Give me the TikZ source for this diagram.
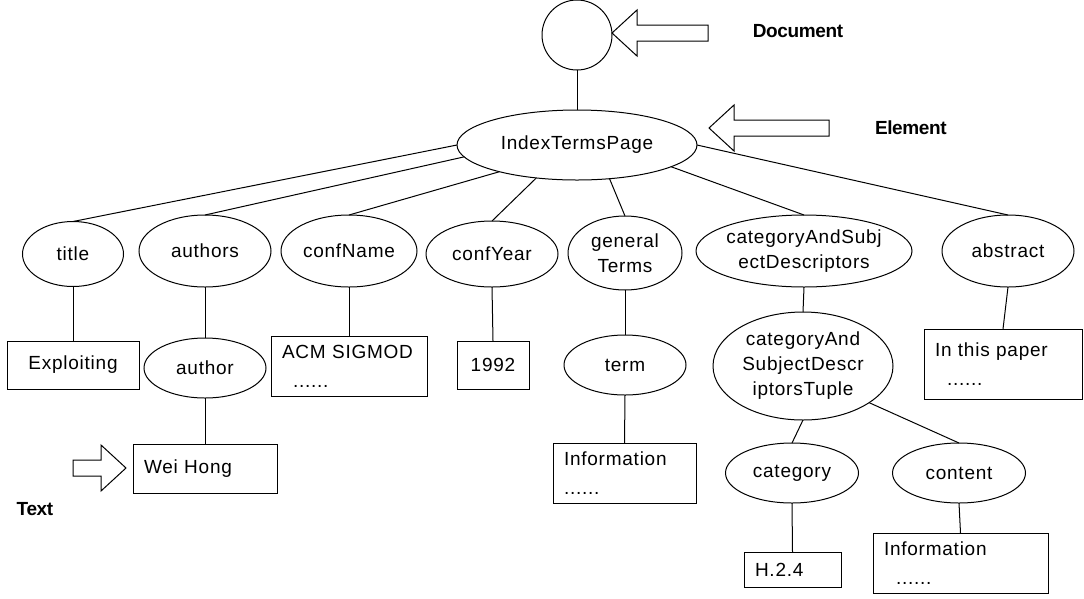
\documentclass[tikz,border=0pt]{standalone}
\usepackage{fontspec}
\setmainfont{Liberation Sans}[LetterSpace=4]
\newfontfamily\labelfont{Liberation Sans}[LetterSpace=-2]
\usetikzlibrary{shapes.geometric}

\begin{document}
\begin{tikzpicture}[x=1pt, y=-1pt, line width=1pt,
  every node/.style={font=\fontsize{19}{25}\selectfont, inner sep=0pt, outer sep=0pt},
  elem/.style 2 args={draw, ellipse, align=center, inner sep=-4pt, minimum width=#1pt, minimum height=#2pt},
  txtbox/.style={draw, rectangle, align=left, inner xsep=11pt, font=\fontsize{19}{29}\selectfont},
  lbl/.style={font=\labelfont\bfseries\fontsize{19}{23}\selectfont}]
\useasboundingbox (0,0) rectangle (1084,598);
\newcommand{\hollowArrow}[4]{% tip x, tip y, side of the tail, length
\draw (#1,#2) -- ({#1+#3*25},{#2-23}) -- ({#1+#3*25},{#2-8}) -- ({#1+#3*#4},{#2-8}) -- ({#1+#3*#4},{#2+8}) -- ({#1+#3*25},{#2+8}) -- ({#1+#3*25},{#2+23}) -- cycle;
}
% root and first level
\node[draw, circle, minimum size=70pt] (doc) at (577,35) {};
\node[elem={240}{70}] (itp) at (577,145) {IndexTermsPage};
\node[elem={101}{65}] (title) at (73,254) {title};
\node[elem={132}{72}] (authors) at (205,251) {authors};
\node[elem={136}{72}] (confName) at (349,251) {confName};
\node[elem={132}{66}] (confYear) at (492,254) {confYear};
\node[elem={114}{74}] (genTerms) at (625,253) {general\\Terms};
\node[elem={216}{72}] (catDesc) at (804,251) {categoryAndSubj\\ectDescriptors};
\node[elem={132}{72}] (abstract) at (1008,251) {abstract};
% lower levels
\node[elem={122}{60}] (author) at (205,368) {author};
\node[elem={122}{60}] (term) at (625,365) {term};
\node[elem={180}{108}] (tuple) at (803,366) {categoryAnd\\SubjectDescr\\iptorsTuple};
\node[elem={133}{60}] (category) at (792,473) {category};
\node[elem={133}{60}] (content) at (959,473) {content};
% text boxes
\node[txtbox, align=center, text width=110pt, minimum height=48pt] (exploit) at (73,365) {Exploiting};
\node[txtbox, text width=134pt, minimum height=60pt] (acm) at (349,366) {ACM SIGMOD\\\hspace*{11pt}......};
\node[txtbox, align=center, text width=50pt, minimum height=48pt] (year) at (493,365) {1992};
\node[txtbox, text width=122pt, minimum height=49pt] (weiHong) at (205,468.5) {Wei Hong};
\node[txtbox, text width=121pt, minimum height=60pt] (info1) at (624.5,473) {Information\\......};
\node[txtbox, text width=136pt, minimum height=70pt] (paper) at (1003,364) {In this paper\\\hspace*{12pt}......};
\node[txtbox, text width=75pt, minimum height=35pt] (h24) at (792.5,569.5) {H.2.4};
\node[txtbox, text width=153pt, minimum height=60pt] (info2) at (960.5,563) {Information\\\hspace*{12pt}......};
% edges
\draw (doc) -- (itp);
\draw (itp.west) -- (title.north);
\draw (itp.186) -- (authors.north);
\draw (itp.199) -- (confName.north);
\draw (itp.219) -- (confYear.north);
\draw (itp.314) -- (genTerms.north);
\draw (itp.347) -- (catDesc.north);
\draw (itp.east) -- (abstract.north);
\draw (title.south) -- (exploit.north);
\draw (authors.south) -- (author.north);
\draw (author.south) -- (weiHong.north);
\draw (confName.south) -- (acm.north);
\draw (confYear.south) -- (year.north);
\draw (genTerms.south) -- (term.north);
\draw (term.south) -- (info1.north);
\draw (catDesc.south) -- (tuple.north);
\draw (tuple.south) -- (category.north);
\draw (tuple.331) -- (content.north);
\draw (category.south) -- (h24.north);
\draw (content.south) -- (info2.north);
\draw (abstract.south) -- (paper.north);
% pointers
\hollowArrow{612}{33}{1}{96}
\hollowArrow{709}{128}{1}{120}
\hollowArrow{126}{468}{-1}{53}
\node[lbl] (docLabel) at (798,31) {Document};
\node[lbl, anchor=west] (elemLabel) at (875,128) {Element};
\node[lbl] (textLabel) at (35,509) {Text};
\end{tikzpicture}
\end{document}
